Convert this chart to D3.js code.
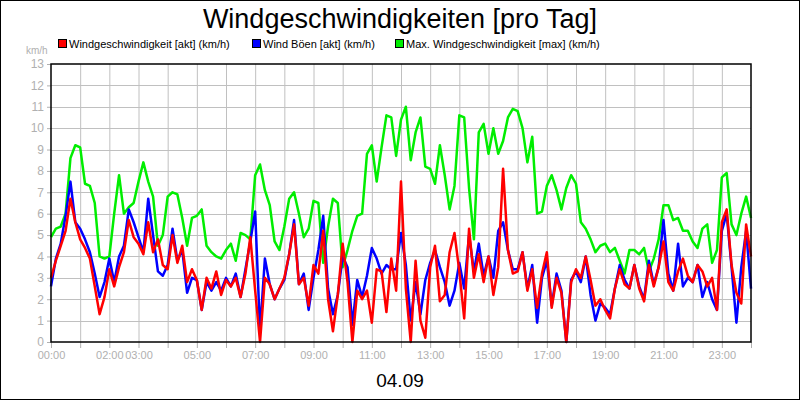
<!DOCTYPE html>
<html><head><meta charset="utf-8">
<script src="https://cdn.jsdelivr.net/npm/d3@7"></script>
<style>body{margin:0;background:#fff}svg{display:block;font-family:"Liberation Sans",Arial,sans-serif}</style>
</head><body><svg id="c" width="800" height="400"></svg>
<script>
const seriesNames = ["Windgeschwindigkeit [akt] (km/h)", "Wind Böen [akt] (km/h)", "Max. Windgeschwindigkeit [max] (km/h)"];
const seriesColors = ["#ff0000", "#0000ff", "#00ee00"];
const xTickLabels = ["00:00","02:00","03:00","05:00","07:00","09:00","11:00","13:00","15:00","17:00","19:00","21:00","23:00"];
const xTickHours = [0,2,3,5,7,9,11,13,15,17,19,21,23];
const yTicks = [0,1,2,3,4,5,6,7,8,9,10,11,12,13];
// values every 10 minutes from 00:00 to 24:00
const akt = [
3.0,3.8,4.5,5.2,6.7,5.6, 4.8,4.4,3.9,2.6,1.3,2.1, 3.4,2.6,3.5,4.2,5.7,4.9, 4.6,4.1,5.6,4.2,4.8,3.6,
3.4,5.0,3.7,4.5,2.8,3.4, 2.9,1.5,3.0,2.5,3.3,2.2, 2.9,2.6,3.0,2.1,3.2,4.9, 2.4,0,3.0,2.7,2.0,2.5,
3.0,4.1,5.5,2.7,3.0,1.7, 3.6,3.2,5.2,2.0,0.5,2.2, 4.6,2.8,0,2.4,2.0,2.4, 0.9,3.4,3.3,1.4,3.9,2.4,
7.5,2.5,0,3.8,1.0,0.2, 3.5,4.5,1.9,2.2,4.2,5.1, 3.3,1.1,5.3,3.0,4.1,2.8, 4.0,2.2,3.5,8.1,4.3,3.2,
3.3,4.2,2.4,3.4,1.6,3.2, 4.2,1.6,3.0,2.3,0,2.8, 3.4,3.0,4.0,2.9,1.7,2.0, 1.5,1.1,2.5,3.4,2.7,2.5,
3.6,2.5,1.9,3.6,2.6,3.5, 4.7,2.8,2.4,3.3,3.9,3.1, 2.8,3.6,3.3,2.6,3.0,1.5, 5.6,6.2,3.6,2.3,1.8,5.5,4.0];
const boeen = [
2.6,3.9,4.6,5.9,7.5,5.6, 5.3,4.8,4.2,3.2,2.1,2.8, 3.9,2.8,4.0,4.5,6.2,5.6, 4.9,4.2,6.7,5.0,3.3,3.1,
3.6,5.3,3.8,4.3,2.3,3.0, 2.9,1.5,2.8,2.4,2.8,2.4, 3.0,2.6,3.2,2.1,3.4,4.7, 6.1,0.5,3.9,2.7,2.0,2.5,
2.9,4.1,5.7,2.7,3.2,1.5, 3.0,4.3,5.9,2.5,1.3,2.2, 4.0,3.5,0.8,2.9,2.1,3.1, 4.4,3.9,3.2,3.6,3.4,3.4,
5.1,3.6,1.0,2.8,1.3,2.9, 3.7,4.3,3.5,2.8,1.7,2.4, 3.7,2.5,5.0,3.3,4.6,3.1, 4.0,3.0,5.2,5.6,4.3,3.4,
3.4,4.2,2.5,3.6,0.9,3.0, 3.8,1.7,3.2,2.4,0,2.9, 3.3,2.8,4.0,2.2,1.0,1.8, 1.6,1.3,2.5,3.6,2.9,2.5,
3.6,2.6,2.0,3.8,2.7,3.5, 5.7,3.2,2.4,4.6,2.6,3.0, 2.8,3.6,2.1,2.8,2.0,1.5, 5.2,6.0,3.5,0.9,3.5,5.2,2.5];
const maxv = [
4.9,5.3,5.4,6.0,8.6,9.2, 9.1,7.4,7.3,6.5,4.0,3.9, 4.0,6.0,7.8,6.0,6.3,6.5, 7.5,8.4,7.5,6.8,4.5,5.0,
6.8,7.0,6.9,5.8,4.5,5.8, 5.9,6.2,4.5,4.2,4.0,3.9, 4.3,4.6,3.8,5.1,5.0,4.8, 7.8,8.3,7.1,6.4,4.7,4.3,
5.4,6.7,7.0,6.0,4.9,5.3, 6.6,6.5,3.7,5.4,6.7,6.5, 3.5,4.3,5.2,5.9,6.0,8.8, 9.2,7.5,9.1,10.6,10.5,8.7,
10.4,11.0,8.5,9.8,10.5,8.2, 8.1,7.4,9.2,7.8,6.2,7.3, 10.6,10.5,7.2,4.8,9.8,10.2, 8.8,10.0,8.8,9.4,10.5,10.9,
10.8,10.0,8.4,9.6,6.0,6.1, 7.3,7.8,7.1,6.2,7.2,7.8, 7.4,5.6,5.3,4.8,4.2,4.5, 4.6,4.2,4.4,3.8,3.2,4.3,
4.3,4.1,4.4,3.3,3.9,4.8, 6.4,6.4,5.7,5.8,5.2,5.2, 4.7,4.4,5.3,5.5,3.7,4.3, 7.7,7.9,5.5,5.0,6.0,6.8,5.8];

const svg = d3.select("#c");
const m = {l:51, r:751, t:64, b:342};
const x = d3.scaleLinear().domain([0,24]).range([m.l,m.r]);
const y = d3.scaleLinear().domain([0,13]).range([m.b,m.t]);
const gray = "#b0b0b0";

svg.append("rect").attr("x",0.5).attr("y",0.5).attr("width",799).attr("height",399).attr("fill","#fff").attr("stroke","#000");
svg.append("text").attr("x",400).attr("y",28).attr("text-anchor","middle").attr("font-size",27).text("Windgeschwindigkeiten [pro Tag]");

// legend
const lx = [58,252,395];
seriesNames.forEach((n,i)=>{
  const g = svg.append("g").attr("transform",`translate(${lx[i]},39)`);
  g.append("rect").attr("x",0.5).attr("y",0.5).attr("width",8).attr("height",8).attr("fill",seriesColors[i==2?2:i]).attr("stroke","#000");
  g.append("text").attr("x",11).attr("y",9).attr("font-size",11).text(n);
});
svg.append("text").attr("x",26).attr("y",54).attr("font-size",10).attr("fill",gray).text("km/h");

// grid
svg.append("g").selectAll("line").data(d3.range(1,24)).join("line")
  .attr("x1",d=>x(d)+0.5).attr("x2",d=>x(d)+0.5).attr("y1",m.t).attr("y2",m.b).attr("stroke","#c0c0c0");
svg.append("g").selectAll("line").data(yTicks.slice(1,-1)).join("line")
  .attr("y1",d=>Math.round(y(d))+0.5).attr("y2",d=>Math.round(y(d))+0.5).attr("x1",m.l).attr("x2",m.r).attr("stroke","#c0c0c0");

// y axis
const ya = svg.append("g").attr("transform",`translate(${m.l},0)`)
  .call(d3.axisLeft(y).tickValues(yTicks).tickSize(4).tickFormat(d3.format("d")));
ya.select(".domain").remove();
ya.selectAll("line").attr("stroke",gray);
ya.selectAll("text").attr("fill",gray).attr("font-size",12).attr("font-family","Liberation Sans, Arial");

// x axis
const xa = svg.append("g").attr("transform",`translate(0,${m.b})`)
  .call(d3.axisBottom(x).tickValues(d3.range(0,25)).tickSize(6).tickFormat(d=>{const k=xTickHours.indexOf(d);return k>=0?xTickLabels[k]:"";}));
xa.select(".domain").remove();
xa.selectAll("line").attr("stroke",gray);
xa.selectAll("text").attr("fill",gray).attr("font-size",11).attr("font-family","Liberation Sans, Arial");

const line = d3.line().x((d,i)=>x(i/6)).y(d=>y(d));
[[maxv,2],[boeen,1],[akt,0]].forEach(([data,ci])=>{
  svg.append("path").datum(data).attr("d",line).attr("fill","none").attr("stroke",seriesColors[ci]).attr("stroke-width",2.5).attr("stroke-linejoin","round");
});

svg.append("rect").attr("x",m.l).attr("y",m.t).attr("width",m.r-m.l).attr("height",m.b-m.t).attr("fill","none").attr("stroke","#000").attr("stroke-width",1.5);

svg.append("text").attr("x",400).attr("y",387).attr("text-anchor","middle").attr("font-size",19).text("04.09");
</script></body></html>
